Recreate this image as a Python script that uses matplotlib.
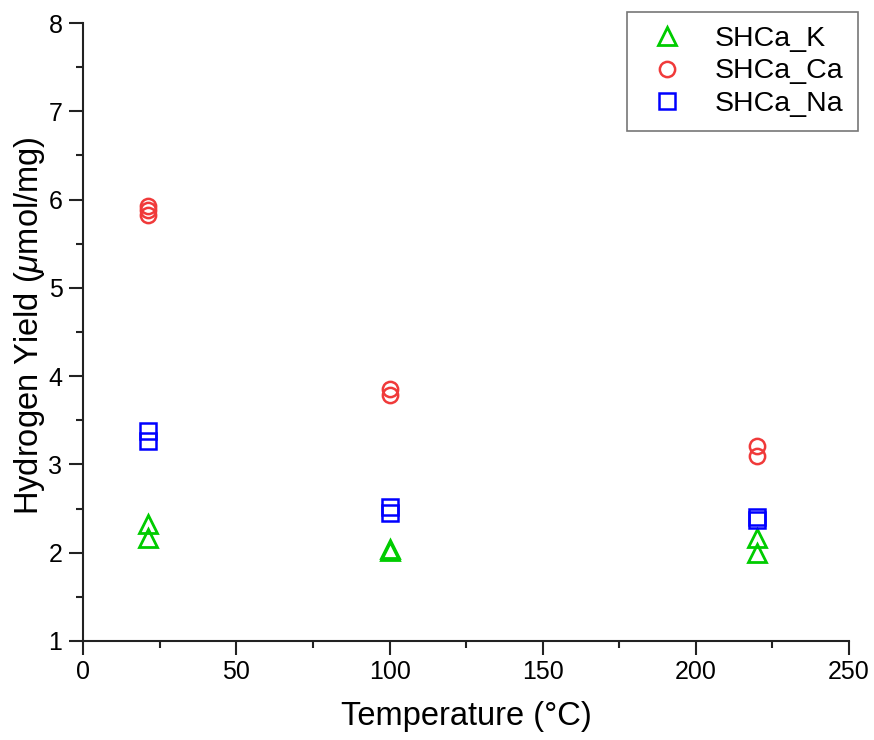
import numpy as np
import matplotlib
matplotlib.use("Agg")
import matplotlib.pyplot as plt
from matplotlib.ticker import MultipleLocator

plt.rcParams['font.family'] = ['Liberation Sans', 'DejaVu Sans']
plt.rcParams['mathtext.fontset'] = 'custom'
plt.rcParams['mathtext.it'] = 'Liberation Sans:italic'
plt.rcParams['mathtext.rm'] = 'Liberation Sans'

# measured points (three temperatures, repeats)
k_temp = [21, 21, 100, 100, 220, 220]
k_yield = [2.32, 2.17, 2.04, 2.02, 2.17, 2.00]

ca_temp = [21, 21, 21, 100, 100, 220, 220]
ca_yield = [5.93, 5.88, 5.82, 3.86, 3.79, 3.21, 3.10]

na_temp = [21, 21, 100, 100, 220, 220]
na_yield = [3.38, 3.26, 2.52, 2.45, 2.41, 2.37]

fig = plt.figure(figsize=(8.74, 7.4), dpi=100)
ax = fig.add_axes([0.0953, 0.1338, 0.9714 - 0.0953, 0.9689 - 0.1338])

ax.plot(k_temp, k_yield, linestyle='none', marker='^', ms=13.5, mfc='none',
        mec='#00CC00', mew=2, label='SHCa_K')
ax.plot(ca_temp, ca_yield, linestyle='none', marker='o', ms=11, mfc='none',
        mec='#F03A3A', mew=1.8, label='SHCa_Ca')
ax.plot(na_temp, na_yield, linestyle='none', marker='s', ms=11, mfc='none',
        mec='#0000FF', mew=1.8, label='SHCa_Na')

ax.set_xlim(0, 250)
ax.set_ylim(1, 8)
ax.xaxis.set_major_locator(MultipleLocator(50))
ax.xaxis.set_minor_locator(MultipleLocator(25))
ax.yaxis.set_major_locator(MultipleLocator(1))
ax.yaxis.set_minor_locator(MultipleLocator(0.5))

for s in ['top', 'right']:
    ax.spines[s].set_visible(False)
for s in ['left', 'bottom']:
    ax.spines[s].set_linewidth(1.5)
    ax.spines[s].set_color('#222222')

ax.tick_params(which='major', direction='out', length=10, width=1.5,
               labelsize=18, color='#222222')
ax.tick_params(axis='y', which='major', pad=5)
ax.tick_params(axis='x', which='major', pad=4)
ax.tick_params(which='minor', direction='out', length=5, width=1.5,
               color='#222222')

ax.set_xlabel('Temperature (°C)', fontsize=23.5, labelpad=12)
ax.set_ylabel('Hydrogen Yield ($\\mu$mol/mg)', fontsize=23.5)
ax.yaxis.set_label_coords(-0.048, 0.51)

leg = ax.legend(loc='upper right', bbox_to_anchor=(858 / 874, 1 - 12 / 740),
                bbox_transform=fig.transFigure, fontsize=20.5,
                frameon=True, fancybox=False, handletextpad=0.8,
                borderpad=0.5, labelspacing=0.22, handlelength=1.8,
                borderaxespad=0)
leg.get_frame().set_edgecolor('#555555')
leg.get_frame().set_linewidth(1.2)

fig.savefig('out.png', dpi=100)
